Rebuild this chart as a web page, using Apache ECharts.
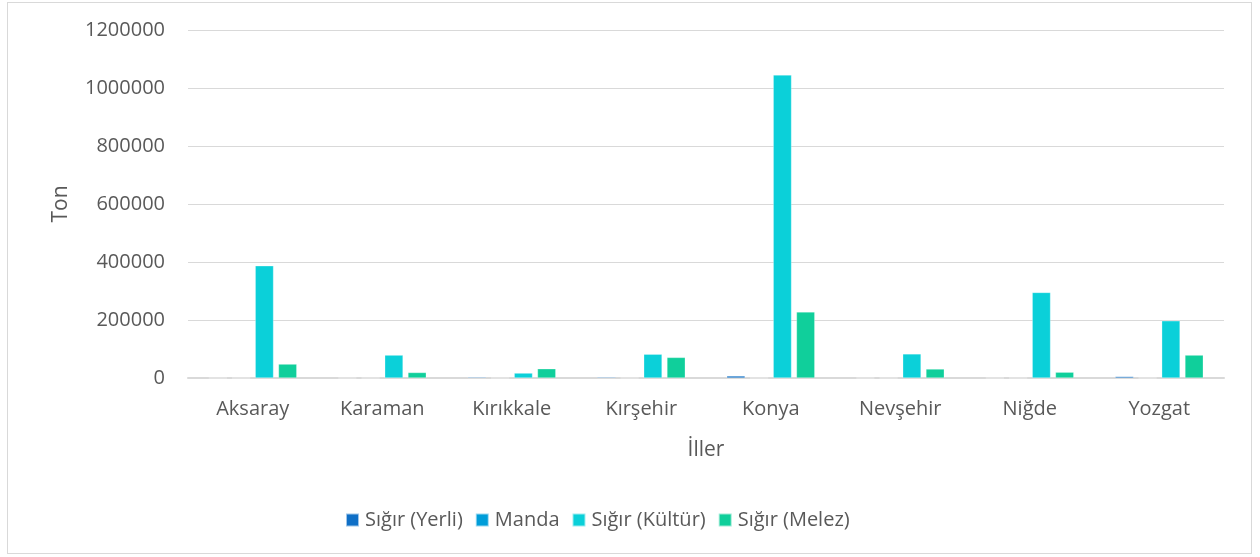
<!DOCTYPE html>
<html>
<head>
<meta charset="utf-8">
<title>İller - Ton</title>
<script src="https://cdn.jsdelivr.net/npm/echarts@6/dist/echarts.min.js"></script>
<style>
  html, body { margin: 0; padding: 0; background: #fff; }
  #frame { position: absolute; left: 7px; top: 2px; width: 1245px; height: 552px; border: 1px solid #d9d9d9; box-sizing: border-box; }
  #container { position: absolute; left: 0; top: 0; width: 1260px; height: 557px; }
</style>
</head>
<body>
<div id="frame"></div>
<div id="container"></div>
<script type="text/javascript">
    // iller
    var iller = ['Aksaray', 'Karaman', 'Kırıkkale', 'Kırşehir', 'Konya', 'Nevşehir', 'Niğde', 'Yozgat'];
    // seri isimleri
    var seriAdlari = ['Sığır (Yerli)', 'Manda', 'Sığır (Kültür)', 'Sığır (Melez)'];
    // ton degerleri
    var sigirYerli  = [0, 0, 3000, 3000, 7000, 0, 0, 5000];
    var manda       = [0, 0, 0, 0, 0, 0, 0, 0];
    var sigirKultur = [387000, 79000, 17000, 82000, 1045000, 83000, 295000, 197000];
    var sigirMelez  = [48000, 19000, 32000, 71000, 228000, 31000, 20000, 79000];
    var yTicks = [0, 200000, 400000, 600000, 800000, 1000000, 1200000];

    var renkler = ['#0F6FC6', '#009DD9', '#0BD0D9', '#10CF9B'];
    var yazi = '#595959';
    var font = 'Open Sans';

    var mychart = echarts.init(document.getElementById('container'));

    function seri(ad, veri, renk) {
        return {
            name: ad,
            type: 'bar',
            data: veri,
            barGap: '27%',
            barCategoryGap: '32%',
            itemStyle: { color: renk, borderColor: 'rgba(255,255,255,0.6)', borderWidth: 0.5 }
        };
    }

    var options = {
        animation: false,
        color: renkler,
        textStyle: { fontFamily: font, color: yazi },
        grid: { left: 188, right: 36, top: 30, bottom: 179 },
        legend: {
            bottom: 22,
            left: 340,
            icon: 'rect',
            itemWidth: 13,
            itemHeight: 13,
            itemGap: 12,
            textStyle: { fontFamily: font, fontSize: 20, color: yazi, padding: [0, 0, 0, 1] },
            data: seriAdlari
        },
        xAxis: [{
            type: 'category',
            data: iller,
            name: 'İller',
            nameLocation: 'middle',
            nameGap: 62,
            nameTextStyle: { fontFamily: font, fontSize: 21, color: yazi },
            axisLine: { lineStyle: { color: '#d9d9d9', width: 2 } },
            axisTick: { show: false },
            axisLabel: { fontFamily: font, fontSize: 20, color: yazi, margin: 21 }
        }],
        yAxis: [{
            type: 'value',
            min: yTicks[0],
            max: yTicks[yTicks.length - 1],
            interval: 200000,
            name: 'Ton',
            nameLocation: 'middle',
            nameGap: 116,
            nameTextStyle: { fontFamily: font, fontSize: 21, color: yazi },
            axisLine: { show: false },
            axisTick: { show: false },
            axisLabel: {
                fontFamily: font, fontSize: 20, color: yazi, margin: 23,
                formatter: function (v) { return String(v); }
            },
            splitLine: { lineStyle: { color: '#d9d9d9', width: 1 } }
        }],
        series: [
            seri(seriAdlari[0], sigirYerli, renkler[0]),
            seri(seriAdlari[1], manda, renkler[1]),
            seri(seriAdlari[2], sigirKultur, renkler[2]),
            seri(seriAdlari[3], sigirMelez, renkler[3])
        ]
    };

    mychart.setOption(options);
</script>
</body>
</html>
